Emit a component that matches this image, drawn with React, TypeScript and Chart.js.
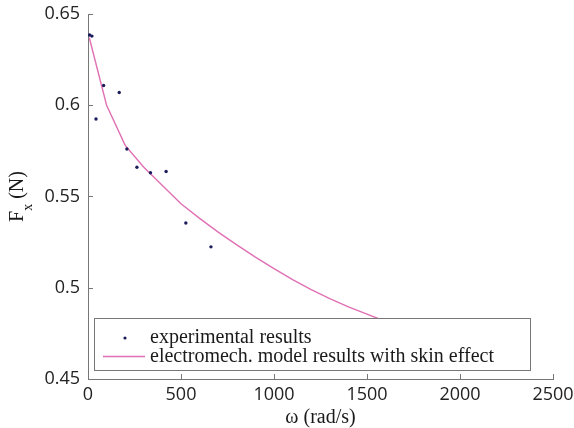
import React, { useEffect, useRef } from "react";
import { Chart, registerables } from "chart.js";

Chart.register(...registerables);

// Experimental results (omega in rad/s, Fx in N)
const expOmega = [9, 21, 43, 84, 168, 209, 263, 336, 420, 526, 661];
const expForce = [0.6385, 0.6379, 0.5925, 0.6108, 0.607, 0.576, 0.566, 0.563, 0.5637, 0.5355, 0.5224];

// Electromechanical model results with skin effect
const modelOmega = [7, 100, 200, 300, 400, 500, 600, 700, 800, 900, 1000, 1100, 1200, 1300, 1400, 1500, 1600, 1800, 2000];
const modelForce = [0.637, 0.6, 0.578, 0.566, 0.556, 0.546, 0.538, 0.5305, 0.5235, 0.5168, 0.5105, 0.5045, 0.499, 0.494, 0.4895, 0.4855, 0.4815, 0.475, 0.468];

const xTicks = [0, 500, 1000, 1500, 2000, 2500];
const yTicks = [0.45, 0.5, 0.55, 0.6, 0.65];

const legendLabels = ["experimental results", "electromech. model results with skin effect"];
const xTitle = "ω (rad/s)";
const yTitleMain = "F";
const yTitleSub = "x";
const yTitleRest = " (N)";

const SERIF = '"Liberation Serif", "Times New Roman", serif';
const SANS = '"Open Sans", sans-serif';
const PINK = "#e070b4";
const NAVY = "#1c1c5c";
const AXIS = "#777777";

const decorPlugin = {
  id: "decor",
  afterDatasetsDraw(chart: any) {
    const { ctx, chartArea: ca } = chart;
    // legend box
    const left = ca.left + 6;
    const right = ca.left + 442;
    const bottom = ca.bottom - 9;
    const top = bottom - 52;
    ctx.save();
    ctx.fillStyle = "#ffffff";
    ctx.fillRect(left, top, right - left, bottom - top);
    ctx.strokeStyle = AXIS;
    ctx.lineWidth = 1;
    ctx.strokeRect(left + 0.5, top + 0.5, right - left, bottom - top);
    // marker row 1
    ctx.fillStyle = NAVY;
    ctx.beginPath();
    ctx.arc(left + 31, top + 20, 1.6, 0, Math.PI * 2);
    ctx.fill();
    // line row 2
    ctx.strokeStyle = PINK;
    ctx.lineWidth = 1.5;
    ctx.beginPath();
    ctx.moveTo(left + 9, top + 38.5);
    ctx.lineTo(left + 51, top + 38.5);
    ctx.stroke();
    ctx.fillStyle = "#1a1a1a";
    ctx.font = "20px " + SERIF;
    ctx.textBaseline = "alphabetic";
    ctx.textAlign = "left";
    ctx.fillText(legendLabels[0], left + 56, top + 24.5);
    ctx.fillText(legendLabels[1], left + 56, top + 43.5);
    ctx.restore();
  },
  afterDraw(chart: any) {
    const { ctx, chartArea: ca, scales } = chart;
    const xs = scales.x;
    const ys = scales.y;
    ctx.save();
    ctx.strokeStyle = AXIS;
    ctx.lineWidth = 1;
    ctx.beginPath();
    xTicks.forEach((v) => {
      if (v === xs.min) return;
      const px = Math.round(xs.getPixelForValue(v)) + 0.5;
      ctx.moveTo(px, ca.bottom);
      ctx.lineTo(px, ca.bottom - 5);
    });
    yTicks.forEach((v) => {
      if (v === ys.min) return;
      const py = Math.round(ys.getPixelForValue(v)) + 0.5;
      ctx.moveTo(ca.left, py);
      ctx.lineTo(ca.left + 5, py);
    });
    ctx.stroke();

    // x title
    ctx.fillStyle = "#1a1a1a";
    ctx.font = "20px " + SERIF;
    ctx.textAlign = "center";
    ctx.textBaseline = "alphabetic";
    ctx.fillText(xTitle, (ca.left + ca.right) / 2, ca.bottom + 44);

    // y title, rotated
    const cy = (ca.top + ca.bottom) / 2;
    ctx.translate(23, cy);
    ctx.rotate(-Math.PI / 2);
    ctx.textAlign = "left";
    ctx.font = "20px " + SERIF;
    const wMain = ctx.measureText(yTitleMain).width;
    ctx.font = "14px " + SERIF;
    const wSub = ctx.measureText(yTitleSub).width;
    ctx.font = "20px " + SERIF;
    const wRest = ctx.measureText(yTitleRest).width;
    let x0 = -(wMain + wSub + wRest) / 2;
    ctx.fillText(yTitleMain, x0, 0);
    x0 += wMain;
    ctx.font = "14px " + SERIF;
    ctx.fillText(yTitleSub, x0, 9);
    x0 += wSub;
    ctx.font = "20px " + SERIF;
    ctx.fillText(yTitleRest, x0, 0);
    ctx.restore();
  },
};

export default function App() {
  const ref = useRef<HTMLCanvasElement | null>(null);
  useEffect(() => {
    if (!ref.current) return;
    const chart = new Chart(ref.current, {
      type: "scatter",
      data: {
        datasets: [
          {
            label: legendLabels[0],
            data: expOmega.map((x, i) => ({ x, y: expForce[i] })),
            showLine: false,
            pointRadius: 1.7,
            pointBorderWidth: 0,
            pointBackgroundColor: NAVY,
            backgroundColor: NAVY,
            order: 1,
          },
          {
            label: legendLabels[1],
            data: modelOmega.map((x, i) => ({ x, y: modelForce[i] })),
            showLine: true,
            pointRadius: 0,
            borderColor: PINK,
            borderWidth: 1.4,
            tension: 0,
            order: 2,
          },
        ],
      },
      options: {
        animation: false,
        responsive: false,
        events: [],
        layout: { padding: { top: 14, right: 21, left: 0, bottom: 0 } },
        plugins: {
          legend: { display: false },
          tooltip: { enabled: false },
        },
        scales: {
          x: {
            type: "linear",
            min: 0,
            max: 2500,
            afterFit: (s: any) => {
              s.height = 49;
              s.paddingLeft = 0;
              s.paddingRight = 0;
            },
            afterBuildTicks: (s: any) => {
              s.ticks = xTicks.map((v) => ({ value: v }));
            },
            grid: { display: false, drawTicks: false },
            border: { display: true, color: AXIS, width: 1 },
            ticks: {
              padding: 5,
              color: "#222222",
              font: { family: SANS, size: 18 },
              maxRotation: 0,
              callback: (v: any) => String(v),
            },
            title: { display: false },
          },
          y: {
            type: "linear",
            min: 0.45,
            max: 0.65,
            afterFit: (s: any) => {
              s.width = 88;
              s.paddingTop = 0;
              s.paddingBottom = 0;
            },
            afterBuildTicks: (s: any) => {
              s.ticks = yTicks.map((v) => ({ value: v }));
            },
            grid: { display: false, drawTicks: false },
            border: { display: true, color: AXIS, width: 1 },
            ticks: {
              padding: 8,
              color: "#222222",
              font: { family: SANS, size: 18 },
              callback: (v: any) => String(Number(Number(v).toFixed(2))),
            },
            title: { display: false },
          },
        },
      },
      plugins: [decorPlugin],
    });
    return () => chart.destroy();
  }, []);
  return (
    <div style={{ position: "absolute", left: 0, top: 0, width: 574, height: 428, background: "#fff" }}>
      <canvas ref={ref} width={574} height={428} style={{ display: "block" }} />
    </div>
  );
}
